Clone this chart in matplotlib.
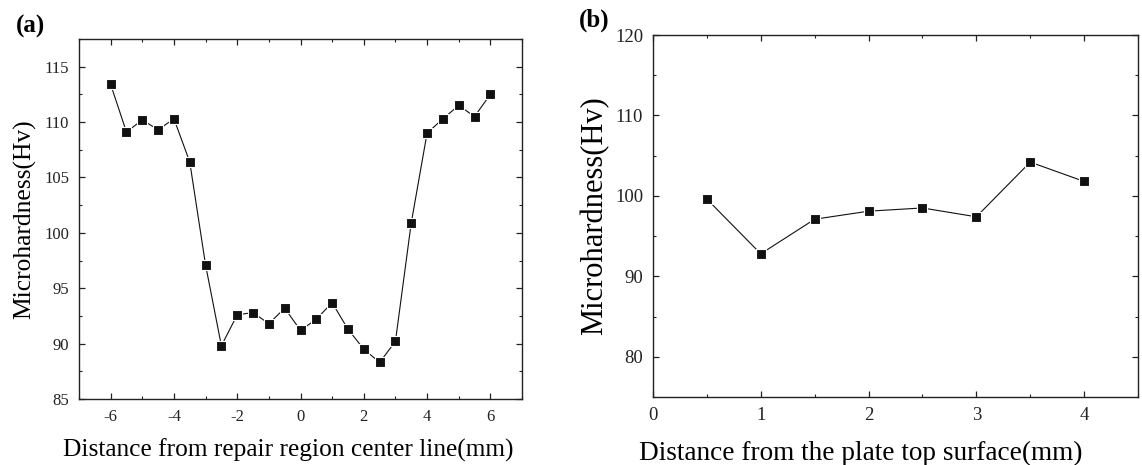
import numpy as np
import matplotlib.pyplot as plt
from matplotlib.ticker import MultipleLocator

plt.rcParams['font.family'] = ['Liberation Serif', 'DejaVu Serif']
plt.rcParams['axes.unicode_minus'] = False

# (a) hardness across the repair region
dist_a = [-6, -5.5, -5, -4.5, -4, -3.5, -3, -2.5, -2, -1.5, -1, -0.5, 0,
          0.5, 1, 1.5, 2, 2.5, 3, 3.5, 4, 4.5, 5, 5.5, 6]
hv_a = [113.4, 109.1, 110.2, 109.3, 110.3, 106.4, 97.1, 89.8, 92.6, 92.8,
        91.8, 93.2, 91.2, 92.2, 93.7, 91.3, 89.5, 88.3, 90.2, 100.9,
        109.0, 110.3, 111.5, 110.5, 112.5]

# (b) hardness through the plate thickness
dist_b = [0.5, 1, 1.5, 2, 2.5, 3, 3.5, 4]
hv_b = [99.6, 92.8, 97.1, 98.1, 98.5, 97.4, 104.2, 101.8]


def style_axis(ax, labelsize):
    for sp in ax.spines.values():
        sp.set_linewidth(1.0)
        sp.set_color('#222222')
    ax.tick_params(which='both', direction='in', top=True, right=True,
                   labeltop=False, labelright=False, colors='#222222')
    ax.tick_params(which='major', length=4, width=0.9, labelsize=labelsize,
                   pad=7)
    ax.tick_params(which='minor', length=2.5, width=0.8)


fig = plt.figure(figsize=(11.42, 4.65), dpi=100)
W, H = 1142, 465

ax1 = fig.add_axes([79 / W, 1 - 399 / H, (522 - 79) / W, (399 - 39) / H])
ax1.plot(dist_a, hv_a, color='#111111', lw=0.8, marker='s', ms=7,
         mfc='#111111', mec='white', mew=0.8)
ax1.set_xlim(-7, 7)
ax1.set_ylim(85, 117.5)
ax1.xaxis.set_major_locator(MultipleLocator(2))
ax1.xaxis.set_minor_locator(MultipleLocator(1))
ax1.yaxis.set_major_locator(MultipleLocator(5))
ax1.yaxis.set_minor_locator(MultipleLocator(2.5))
style_axis(ax1, 12)
ax1.set_xlabel('Distance from repair region center line(mm)', fontsize=18.3,
               labelpad=10)
ax1.xaxis.label.set_x(0.473)
ax1.set_ylabel('Microhardness(Hv)', fontsize=18.4, labelpad=6)
fig.text(16 / W, 1 - 26 / H, '(a)', fontsize=18, fontweight='bold',
         va='center')

ax2 = fig.add_axes([653 / W, 1 - 397 / H, (1138 - 653) / W, (397 - 35) / H])
ax2.plot(dist_b, hv_b, color='#111111', lw=0.8, marker='s', ms=7,
         mfc='#111111', mec='white', mew=0.8)
ax2.set_xlim(0, 4.5)
ax2.set_ylim(75, 120)
ax2.xaxis.set_major_locator(MultipleLocator(1))
ax2.xaxis.set_minor_locator(MultipleLocator(0.5))
ax2.yaxis.set_major_locator(MultipleLocator(10))
ax2.yaxis.set_minor_locator(MultipleLocator(5))
style_axis(ax2, 13.5)
ax2.set_xlabel('Distance from the plate top surface(mm)', fontsize=19.6,
               labelpad=12)
ax2.xaxis.label.set_x(0.429)
ax2.set_ylabel('Microhardness(Hv)', fontsize=22, labelpad=4.5)
fig.text(579 / W, 1 - 20 / H, '(b)', fontsize=18, fontweight='bold',
         va='center')

fig.savefig('out.png', dpi=100)
